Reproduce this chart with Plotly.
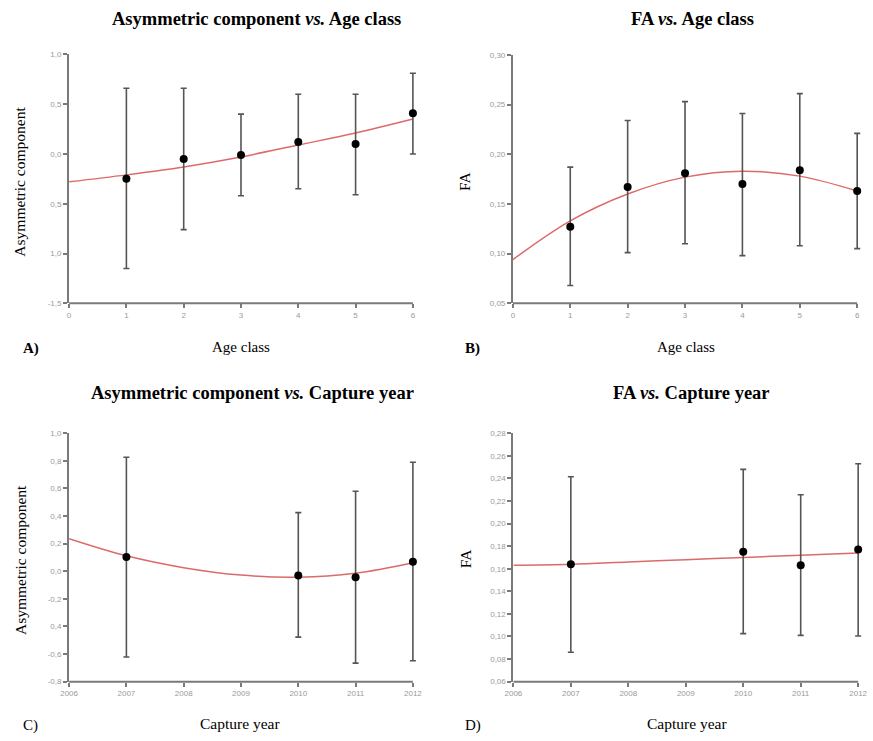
import plotly.graph_objects as go

# ---------------- Data ----------------
age_class = [1, 2, 3, 4, 5, 6]
asym_age_mean = [-0.25, -0.05, -0.01, 0.12, 0.10, 0.41]
asym_age_upper = [0.66, 0.66, 0.40, 0.60, 0.60, 0.81]
asym_age_lower = [-1.15, -0.76, -0.42, -0.35, -0.41, 0.00]
asym_age_fit_x = [0, 1, 2, 3, 4, 5, 6]
asym_age_fit_y = [-0.28, -0.21, -0.13, -0.03, 0.09, 0.21, 0.35]

fa_age_mean = [0.127, 0.167, 0.181, 0.170, 0.184, 0.163]
fa_age_upper = [0.187, 0.234, 0.253, 0.241, 0.261, 0.221]
fa_age_lower = [0.068, 0.101, 0.110, 0.098, 0.108, 0.105]
fa_age_fit_x = [0, 1, 2, 3, 4, 5, 6]
fa_age_fit_y = [0.094, 0.133, 0.160, 0.177, 0.183, 0.178, 0.163]

capture_year = [2007, 2010, 2011, 2012]
asym_year_mean = [0.103, -0.031, -0.043, 0.069]
asym_year_upper = [0.826, 0.425, 0.580, 0.790]
asym_year_lower = [-0.621, -0.477, -0.666, -0.649]
asym_year_fit_x = [2006, 2007, 2008, 2009, 2010, 2011, 2012]
asym_year_fit_y = [0.236, 0.112, 0.026, -0.028, -0.043, -0.014, 0.062]

fa_year_mean = [0.164, 0.175, 0.163, 0.177]
fa_year_upper = [0.2415, 0.248, 0.2255, 0.253]
fa_year_lower = [0.086, 0.1025, 0.101, 0.1005]
fa_year_fit_x = [2006, 2007, 2008, 2009, 2010, 2011, 2012]
fa_year_fit_y = [0.163, 0.164, 0.166, 0.168, 0.170, 0.172, 0.174]

age_ticks = [0, 1, 2, 3, 4, 5, 6]
year_ticks = [2006, 2007, 2008, 2009, 2010, 2011, 2012]

asym_age_yticks = [1.0, 0.5, 0.0, -0.5, -1.0, -1.5]
asym_age_yticktext = ["1,0", "0,5", "0,0", "0,5", "1,0", "-1,5"]
fa_age_yticks = [0.30, 0.25, 0.20, 0.15, 0.10, 0.05]
fa_age_yticktext = ["0,30", "0,25", "0,20", "0,15", "0,10", "0,05"]
asym_year_yticks = [1.0, 0.8, 0.6, 0.4, 0.2, 0.0, -0.2, -0.4, -0.6, -0.8]
asym_year_yticktext = ["1,0", "0,8", "0,6", "0,4", "0,2", "0,0", "-0,2", "0,4", "-0,6", "-0,8"]
fa_year_yticks = [0.28, 0.26, 0.24, 0.22, 0.20, 0.18, 0.16, 0.14, 0.12, 0.10, 0.08, 0.06]
fa_year_yticktext = ["0,28", "0,26", "0,24", "0,22", "0,20", "0,18", "0,16", "0,14", "0,12", "0,10", "0,08", "0,06"]

# ---------------- Styles ----------------
W, H = 873, 741
AXIS_COL = "#7a7a7a"
ERR_COL = "#555555"
FIT_COL = "#dd6a6a"
TICK_FONT = dict(family="Liberation Sans, Arial, sans-serif", size=8, color="#9a9a9a")
SERIF = "Liberation Serif, Times New Roman, serif"
PAD = 5  # extra px on the right so the last error bar is not clipped

fig = go.Figure()

panels = [
    ("x", "y", age_class, asym_age_mean, asym_age_upper, asym_age_lower,
     asym_age_fit_x, asym_age_fit_y, [0, 6], age_ticks, [-1.5, 1.0], asym_age_yticks, asym_age_yticktext),
    ("x2", "y2", age_class, fa_age_mean, fa_age_upper, fa_age_lower,
     fa_age_fit_x, fa_age_fit_y, [0, 6], age_ticks, [0.05, 0.30], fa_age_yticks, fa_age_yticktext),
    ("x3", "y3", capture_year, asym_year_mean, asym_year_upper, asym_year_lower,
     asym_year_fit_x, asym_year_fit_y, [2006, 2012], year_ticks, [-0.8, 1.0], asym_year_yticks, asym_year_yticktext),
    ("x4", "y4", capture_year, fa_year_mean, fa_year_upper, fa_year_lower,
     fa_year_fit_x, fa_year_fit_y, [2006, 2012], year_ticks, [0.06, 0.28], fa_year_yticks, fa_year_yticktext),
]

# pixel plot areas (left, right, top, bottom)
areas = [
    (61, 410, 51, 303),
    (511.5, 861, 51.5, 303),
    (61, 410, 434.5, 686),
    (512, 862, 434.5, 686),
]

layout_axes = {}
for i, (p, a) in enumerate(zip(panels, areas)):
    xa, ya, xs, m, up, lo, fx, fy, xr, xt, yr, yt, ytt = p
    l, r, t, b = a
    span = xr[1] - xr[0]
    xr_ext = [xr[0], xr[1] + span * PAD / (r - l)]
    fig.add_trace(go.Scatter(
        x=fx, y=fy, xaxis=xa, yaxis=ya, mode="lines",
        line=dict(color=FIT_COL, width=1.5, shape="spline", smoothing=1.0),
        hoverinfo="skip", showlegend=False, cliponaxis=False))
    fig.add_trace(go.Scatter(
        x=xs, y=m, xaxis=xa, yaxis=ya, mode="markers",
        marker=dict(color="black", size=8),
        error_y=dict(type="data", symmetric=False,
                     array=[u - v for u, v in zip(up, m)],
                     arrayminus=[v - w for v, w in zip(m, lo)],
                     color=ERR_COL, thickness=1.6, width=3),
        showlegend=False, cliponaxis=False))
    xname = "xaxis" if xa == "x" else "xaxis" + xa[1:]
    yname = "yaxis" if ya == "y" else "yaxis" + ya[1:]
    layout_axes[xname] = dict(
        domain=[l / W, (r + PAD) / W], range=xr_ext, anchor=ya, tickmode="array",
        tickvals=xt, ticktext=[str(v) for v in xt], showgrid=False, zeroline=False,
        showline=False, ticks="outside",
        ticklen=4, tickwidth=1.5, tickcolor=AXIS_COL, tickfont=TICK_FONT)
    layout_axes[yname] = dict(
        domain=[1 - b / H, 1 - t / H], range=yr, anchor=xa, tickmode="array",
        tickvals=yt, ticktext=ytt, showgrid=False, zeroline=False,
        showline=True, linecolor=AXIS_COL, linewidth=2, ticks="outside",
        ticklen=4, tickwidth=1.5, tickcolor=AXIS_COL, tickfont=TICK_FONT)
    # x axis line ending exactly at the last tick
    fig.add_shape(type="line", xref=xa, yref="paper",
                  x0=xr[0], x1=xr[1], y0=1 - b / H, y1=1 - b / H,
                  line=dict(color=AXIS_COL, width=2))

fig.update_layout(**layout_axes)

annotations = []
def txt(x, y, text, size=14, bold=False, angle=0, xanchor="center"):
    if bold:
        text = "<b>" + text + "</b>"
    annotations.append(dict(x=x / W, y=1 - y / H, xref="paper", yref="paper",
                            text=text, showarrow=False, textangle=angle,
                            xanchor=xanchor, yanchor="middle",
                            font=dict(family=SERIF, size=size, color="black")))

# titles
txt(251, 15, "Asymmetric component <i>vs.</i> Age class", size=18.5, bold=True)
txt(694, 15, "FA <i>vs.</i> Age class", size=18.5, bold=True)
txt(247, 394, "Asymmetric component <i>vs.</i> Capture year", size=18.5, bold=True)
txt(693, 394, "FA <i>vs.</i> Capture year", size=18.5, bold=True)
# x axis titles
txt(235, 347, "Age class", size=15)
txt(687, 347, "Age class", size=15)
txt(234, 728, "Capture year", size=15.5)
txt(688, 728, "Capture year", size=15.5)
# y axis titles
txt(11, 180, "Asymmetric component", size=15.5, angle=-90)
txt(463, 180, "FA", size=15.5, angle=-90)
txt(11, 563, "Asymmetric component", size=15.5, angle=-90)
txt(463, 562, "FA", size=15.5, angle=-90)
# panel letters
txt(12, 349, "A)", size=15, bold=True, xanchor="left")
txt(461, 349, "B)", size=15, bold=True, xanchor="left")
txt(12, 730, "C)", size=15, xanchor="left")
txt(461, 730, "D)", size=15, xanchor="left")

fig.update_layout(
    width=W, height=H, margin=dict(l=0, r=0, t=0, b=0),
    paper_bgcolor="white", plot_bgcolor="white",
    annotations=annotations, showlegend=False)

fig.write_html("out.html")
